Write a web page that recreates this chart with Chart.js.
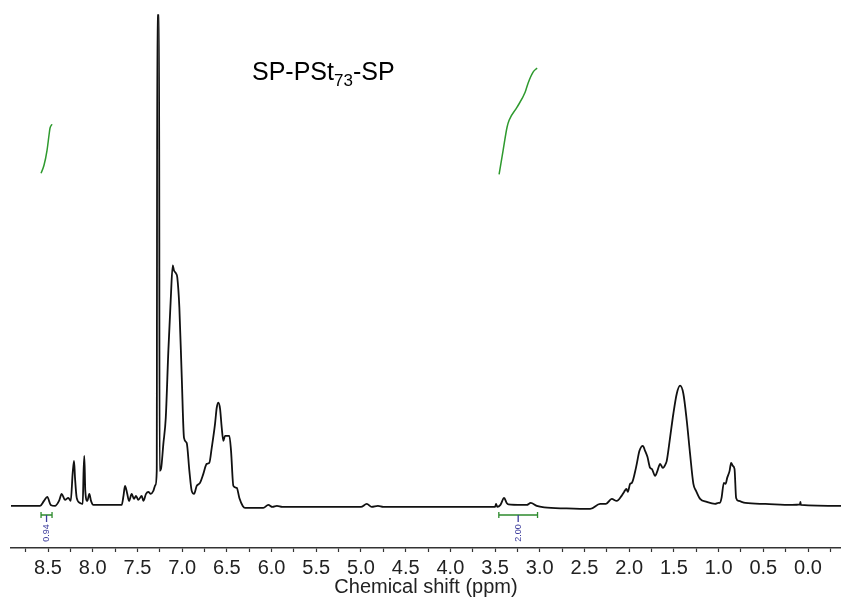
<!DOCTYPE html>
<html lang="en">
<head>
    <meta charset="UTF-8">
    <title>SP-PSt73-SP 1H NMR</title>
    <script src="https://cdn.jsdelivr.net/npm/chart.js"></script>
    <style>
        body {
            margin: 0;
            padding: 0;
            background-color: white;
        }
        #wrap {
            width: 841px;
            height: 606px;
        }
    </style>
</head>
<body>
    <div id="wrap">
        <canvas id="nmrChart" width="841" height="606"></canvas>
    </div>

    <script>
        // spectrum trace (ppm, intensity)
        const shiftPpm = [
            8.914, 8.701, 8.589, 8.545, 8.508, 8.470, 8.422, 8.377, 8.347, 8.310,
            8.273, 8.246, 8.224, 8.209, 8.198, 8.179, 8.142, 8.112, 8.102, 8.094,
            8.083, 8.060, 8.038, 8.019, 7.993, 7.806, 7.676, 7.656, 7.639, 7.616,
            7.594, 7.564, 7.538, 7.516, 7.490, 7.452, 7.434, 7.404, 7.378, 7.351,
            7.322, 7.298, 7.284, 7.278, 7.258, 7.252, 7.236, 7.210, 7.183, 7.154,
            7.128, 7.105, 7.091, 7.068, 7.054, 7.031, 7.004, 6.979, 6.949, 6.919,
            6.893, 6.867, 6.837, 6.800, 6.763, 6.725, 6.696, 6.669, 6.632, 6.613,
            6.595, 6.576, 6.557, 6.539, 6.520, 6.494, 6.472, 6.453, 6.427, 6.389,
            6.360, 6.322, 6.296, 6.092, 6.036, 5.990, 5.940, 5.880, 5.500, 5.000,
            4.935, 4.880, 4.810, 4.750, 4.000, 3.500, 3.489, 3.475, 3.440, 3.399,
            3.370, 3.351, 3.200, 3.146, 3.101, 3.034, 2.950, 2.700, 2.437, 2.325,
            2.260, 2.195, 2.139, 2.085, 2.057, 2.030, 2.015, 1.990, 1.970, 1.922,
            1.885, 1.847, 1.822, 1.796, 1.766, 1.747, 1.710, 1.684, 1.654, 1.624,
            1.587, 1.580, 1.543, 1.506, 1.468, 1.431, 1.394, 1.356, 1.319, 1.282,
            1.252, 1.207, 1.132, 1.039, 1.002, 0.985, 0.967, 0.941, 0.922, 0.904,
            0.877, 0.860, 0.841, 0.822, 0.804, 0.774, 0.700, 0.476, 0.178, 0.090,
            0.085, 0.080, -0.369
        ];
        const intensity = [
            3, 3, 3, 8, 12, 4, 3, 8, 15, 9,
            11, 8, 36, 48, 31, 11, 6, 5, 38, 53,
            18, 8, 15, 8, 4, 4, 4, 13, 23, 16,
            8, 15, 10, 13, 9, 13, 8, 15, 17, 15,
            18, 24, 38, 493, 493, 38, 40, 65, 91, 158,
            208, 243, 238, 235, 231, 201, 131, 71, 66, 38,
            18, 15, 23, 26, 35, 45, 46, 61, 85, 101,
            106, 100, 81, 68, 73, 73, 73, 58, 23, 21,
            11, 3, 1, 1, 4, 2, 3, 2, 2, 2,
            5, 2, 3, 2, 2, 2, 5, 2, 4, 11,
            6, 4.5, 4, 4, 6, 3, 1.5, 0.5, 0, 5,
            5, 10, 8, 13, 17, 20, 17, 25, 26, 42,
            58, 63, 58, 52, 41, 40, 33, 38, 45, 41,
            46, 48, 71, 95, 115, 123, 115, 88, 55, 25,
            18, 10, 7, 5, 6, 6, 11, 26, 25, 31,
            38, 46, 43, 40, 11, 8, 6, 5, 4, 4.5,
            7, 4, 3
        ];

        // integral curves
        const integ1Ppm = [8.578, 8.545, 8.511, 8.489, 8.478, 8.455];
        const integ1Val = [335, 343, 358, 373, 380, 384];
        const integ2Ppm = [3.455, 3.410, 3.366, 3.343, 3.254, 3.164, 3.131, 3.075, 3.030];
        const integ2Val = [334, 358, 381, 388, 401, 416, 425, 436, 440];

        // integration regions and their values
        const integRanges = [[8.578, 8.455], [3.458, 3.025]];
        const integLabels = ['0.94', '2.00'];

        const xMin = -0.369;
        const xMax = 8.914;

        const toXY = (xs, ys) => xs.map((x, i) => ({ x: x, y: ys[i] }));

        const annotations = {
            id: 'annotations',
            afterDraw(chart) {
                const ctx = chart.ctx;
                const xs = chart.scales.x;
                const bottom = chart.chartArea.bottom;
                ctx.save();

                // integration brackets
                integRanges.forEach((r, i) => {
                    const x1 = xs.getPixelForValue(r[0]);
                    const x2 = xs.getPixelForValue(r[1]);
                    const yb = bottom - 33;
                    ctx.strokeStyle = '#2e8b2e';
                    ctx.lineWidth = 1.3;
                    ctx.beginPath();
                    ctx.moveTo(x1, yb); ctx.lineTo(x2, yb);
                    ctx.moveTo(x1, yb - 3); ctx.lineTo(x1, yb + 3);
                    ctx.moveTo(x2, yb - 3); ctx.lineTo(x2, yb + 3);
                    ctx.stroke();
                    const xc = (x1 + x2) / 2;
                    ctx.strokeStyle = '#3c3c9c';
                    ctx.beginPath();
                    ctx.moveTo(xc, yb); ctx.lineTo(xc, yb + 7);
                    ctx.stroke();
                    ctx.save();
                    ctx.translate(xc, yb + 18);
                    ctx.rotate(-Math.PI / 2);
                    ctx.fillStyle = '#3c3c9c';
                    ctx.font = '9px Arial';
                    ctx.textAlign = 'center';
                    ctx.textBaseline = 'middle';
                    ctx.fillText(integLabels[i], 0, 0);
                    ctx.restore();
                });

                // sample label
                ctx.fillStyle = '#000';
                ctx.textBaseline = 'alphabetic';
                ctx.textAlign = 'left';
                let x = 252;
                const y = 80;
                ctx.font = '25px Arial';
                ctx.fillText('SP-PSt', x, y);
                x += ctx.measureText('SP-PSt').width;
                ctx.font = '17px Arial';
                ctx.fillText('73', x, y + 6);
                x += ctx.measureText('73').width;
                ctx.font = '25px Arial';
                ctx.fillText('-SP', x, y);
                ctx.restore();
            }
        };

        const ctx = document.getElementById('nmrChart').getContext('2d');
        new Chart(ctx, {
            type: 'line',
            data: {
                datasets: [{
                    data: toXY(shiftPpm, intensity),
                    borderColor: '#111',
                    borderWidth: 1.8,
                    pointRadius: 0,
                    cubicInterpolationMode: 'monotone'
                },
                {
                    data: toXY(integ1Ppm, integ1Val),
                    borderColor: '#2e9a2e',
                    borderWidth: 1.5,
                    pointRadius: 0,
                    cubicInterpolationMode: 'monotone'
                },
                {
                    data: toXY(integ2Ppm, integ2Val),
                    borderColor: '#2e9a2e',
                    borderWidth: 1.5,
                    pointRadius: 0,
                    cubicInterpolationMode: 'monotone'
                }]
            },
            options: {
                responsive: false,
                animation: false,
                layout: {
                    padding: { left: 11, right: 0, top: 0, bottom: 9 }
                },
                plugins: {
                    legend: { display: false },
                    tooltip: { enabled: false }
                },
                scales: {
                    x: {
                        type: 'linear',
                        reverse: true,
                        min: xMin,
                        max: xMax,
                        border: { display: true, color: '#333', width: 1.5 },
                        grid: {
                            display: true,
                            drawOnChartArea: false,
                            drawTicks: true,
                            tickLength: 4,
                            tickColor: '#333',
                            tickWidth: 1.2
                        },
                        ticks: {
                            stepSize: 0.25,
                            includeBounds: false,
                            autoSkip: false,
                            maxRotation: 0,
                            padding: 6,
                            color: '#222',
                            font: { family: 'Arial', size: 20, lineHeight: 1 },
                            callback: function (value) {
                                const v = Number(value);
                                return Math.abs(v * 2 - Math.round(v * 2)) < 1e-6 ? v.toFixed(1) : '';
                            }
                        },
                        title: {
                            display: true,
                            text: 'Chemical shift (ppm)',
                            color: '#222',
                            font: { family: 'Arial', size: 20, lineHeight: 1 },
                            padding: { top: -7, bottom: 0 }
                        }
                    },
                    y: {
                        display: false,
                        min: -39,
                        max: 508
                    }
                }
            },
            plugins: [annotations]
        });
    </script>
</body>
</html>
